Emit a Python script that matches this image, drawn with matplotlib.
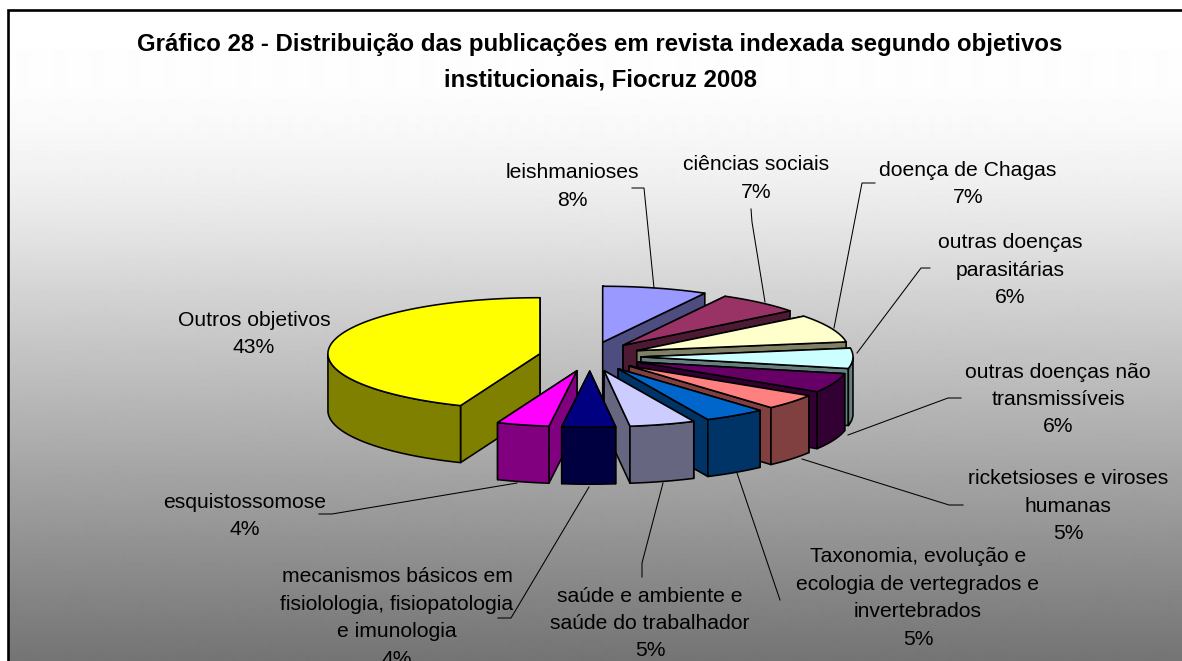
import numpy as np
import matplotlib
matplotlib.use("Agg")
import matplotlib.pyplot as plt
from matplotlib.patches import Polygon

plt.rcParams['font.family'] = ['Liberation Sans', 'DejaVu Sans']

# ---- data -------------------------------------------------------------
categories = ["leishmanioses", "ciências sociais", "doença de Chagas",
              "outras doenças\nparasitárias", "outras doenças não\ntransmissíveis",
              "ricketsioses e viroses\nhumanas",
              "Taxonomia, evolução e\necologia de vertegrados e\ninvertebrados",
              "saúde e ambiente e\nsaúde do trabalhador",
              "mecanismos básicos em\nfisiolologia, fisiopatologia\ne imunologia",
              "esquistossomose", "Outros objetivos"]
percent_labels = ["8%", "7%", "7%", "6%", "6%", "5%", "5%", "5%", "4%", "4%", "43%"]
# slice shares as drawn in the picture (percent of the circle)
slice_shares = [8.0, 6.44, 8.06, 5.83, 5.56, 4.44, 4.72, 5.0, 4.06, 4.0, 43.89]
top_colors = ["#9999FF", "#993366", "#FFFFCC", "#CCFFFF", "#660066", "#FF8080",
              "#0066CC", "#CCCCFF", "#000080", "#FF00FF", "#FFFF00"]
side_colors = ["#4D4D80", "#4D1A33", "#808066", "#668080", "#330033", "#804040",
               "#003366", "#666680", "#000040", "#800080", "#808000"]
title_lines = ["Gráfico 28 - Distribuição das publicações em revista indexada segundo objetivos",
               "institucionais, Fiocruz 2008"]

# ---- layout (pixels) ---------------------------------------------------
W, H = 1182, 661
CX, CY = 590, 356.5
RX, RY = 212, 56
EX, EY = 51, 14.7
DEPTH = 57
LABEL_POS = [(572, 173), (756, 165), (968, 170), (1010, 243), (1058, 372),
             (1068, 479), (918, 557), (650, 596), (397, 577), (245, 502), (254, 320)]
LINE_PITCH = 27.4
LEADERS = [[(632, 188), (644, 188), (654, 288)],
           [(751, 209), (752, 222), (765, 302)],
           [(875, 183), (862, 183), (834, 328)],
           [(930, 268), (921, 268), (857, 353)],
           [(961, 398), (948, 398), (848, 435)],
           [(963, 505), (949, 505), (802, 459)],
           [(737, 473), (780, 600)],
           [(663, 483), (642, 563), (642, 577)],
           [(589, 487), (511, 618), (498, 618)],
           [(517, 483), (332, 514), (319, 514)]]
LW = 1.15
GRAD_Y = [10, 90, 140, 190, 240, 290, 490, 661]
GRAD_V = [255, 253, 247, 238, 226, 212, 160, 116]

fig = plt.figure(figsize=(W / 100, H / 100), dpi=100, facecolor="white")
ax = fig.add_axes([0, 0, 1, 1])
ax.set_xlim(0, W)
ax.set_ylim(H, 0)
ax.axis("off")

# background gradient
rows = np.arange(10, H)
grey = np.interp(rows, GRAD_Y, GRAD_V) / 255
ax.imshow(grey[:, None], cmap="gray", vmin=0, vmax=1, aspect="auto",
          extent=(8, W, H, 10), zorder=0, interpolation="bilinear")
ax.set_xlim(0, W)
ax.set_ylim(H, 0)
ax.plot([7.5, 7.5, W], [H, 10, 10], color="black", lw=1.9, zorder=1,
        solid_joinstyle="miter")

# pie
edges = np.radians(np.concatenate([[0], np.cumsum(slice_shares)]) * 3.6)
order = sorted(range(len(slice_shares)),
               key=lambda i: -np.cos((edges[i] + edges[i + 1]) / 2))
z = 2


def add(poly, color):
    global z
    ax.add_patch(Polygon(poly, closed=True, facecolor=color, edgecolor="black",
                         lw=LW, joinstyle="round", zorder=z))
    z += 1


for i in order:
    t0, t1 = edges[i], edges[i + 1]
    mid = (t0 + t1) / 2
    ax0 = CX + EX * np.sin(mid)
    ay0 = CY - EY * np.cos(mid)
    arc = np.linspace(t0, t1, 160)
    ax_pts = ax0 + RX * np.sin(arc)
    ay_pts = ay0 - RY * np.cos(arc)
    # radial walls: the one whose outer corner lies further back goes first
    for t in sorted((t0, t1), key=lambda v: -np.cos(v)):
        px, py = ax0 + RX * np.sin(t), ay0 - RY * np.cos(t)
        add([(ax0, ay0), (px, py), (px, py + DEPTH), (ax0, ay0 + DEPTH)], side_colors[i])
    # outer wall (only the part that faces the viewer)
    front = np.cos(arc) <= 0
    if front.any():
        fx, fy = ax_pts[front], ay_pts[front]
        add(list(zip(fx, fy)) + list(zip(fx[::-1], fy[::-1] + DEPTH)), side_colors[i])
    # top face
    add([(ax0, ay0)] + list(zip(ax_pts, ay_pts)), top_colors[i])

# leaders
for line in LEADERS:
    xs, ys = zip(*line)
    ax.plot(xs, ys, color="black", lw=0.75, zorder=100)

# labels
for cat, pct, (x, y) in zip(categories, percent_labels, LABEL_POS):
    for k, txt in enumerate(cat.split("\n") + [pct]):
        ax.text(x, y + k * LINE_PITCH, txt, ha="center", va="center",
                fontsize=15.2, color="black", zorder=101, clip_on=True)

for txt, y in zip(title_lines, (45, 80)):
    ax.text(600, y, txt, ha="center", va="center", fontsize=17.3,
            fontweight="bold", color="black", zorder=101)

fig.savefig("out.png", dpi=100)
